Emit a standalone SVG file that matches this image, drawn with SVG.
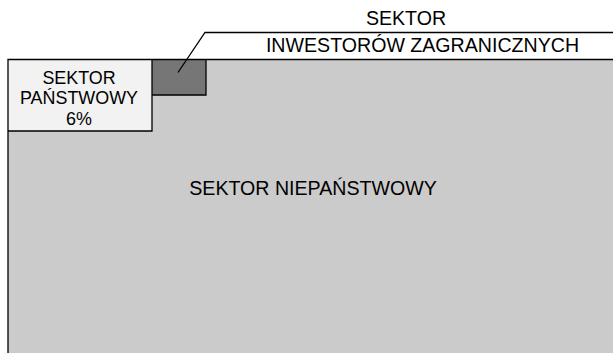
<svg xmlns="http://www.w3.org/2000/svg" width="613" height="353" viewBox="0 0 613 353">
<style>
text{font-family:"Liberation Sans",Arial,sans-serif;font-size:19.6px;fill:#000;text-anchor:middle}
.sm{font-size:17.9px}
.ln{stroke:#000;stroke-width:1.3;fill:none}
</style>
<rect width="613" height="353" fill="#fff"/>
<g id="niepanstwowy">
<rect x="8" y="59.5" width="606" height="300" fill="#cbcbcb"/>
<text x="313" y="195">SEKTOR NIEPAŃSTWOWY</text>
</g>
<g id="panstwowy">
<rect x="8" y="59.5" width="144" height="71.5" fill="#f2f2f2"/>
<text class="sm" x="79" y="84">SEKTOR</text>
<text class="sm" x="79" y="104">PAŃSTWOWY</text>
<text class="sm" x="79" y="125">6%</text>
</g>
<g id="zagraniczny">
<rect x="152" y="59.5" width="54" height="35.5" fill="#767676"/>
<text x="406" y="25">SEKTOR</text>
<text x="422.5" y="52">INWESTORÓW ZAGRANICZNYCH</text>
</g>
<g id="connectors">
<path class="ln" d="M8,353 V59.5 H613"/>
<path class="ln" d="M8,131 H152 V59.5"/>
<path class="ln" d="M152,95 H206 V59.5"/>
<path class="ln" d="M178,72.5 L205,32.5 H613"/>
</g>
</svg>
